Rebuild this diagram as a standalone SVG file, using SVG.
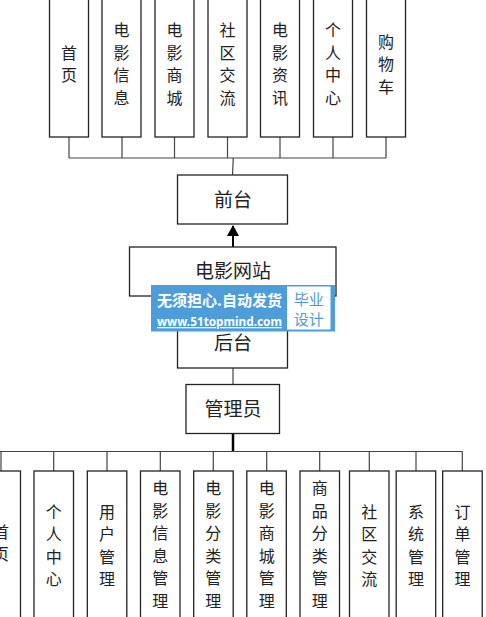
<svg xmlns="http://www.w3.org/2000/svg" width="486" height="617" viewBox="0 0 486 617">
<style>
.box{fill:#fff;stroke:#222;stroke-width:1.3}
.ln{fill:none;stroke:#444;stroke-width:1.2}
.t{font-family:"Noto Sans CJK SC","Noto Sans CJK JP",sans-serif;font-size:16px;fill:#222;text-anchor:middle}
.tb{font-family:"Noto Sans CJK SC","Noto Sans CJK JP",sans-serif;font-size:19px;fill:#222;text-anchor:middle}
</style>
<defs>
<marker id="ah" markerWidth="12" markerHeight="12" refX="10" refY="6" orient="auto" markerUnits="userSpaceOnUse">
<path d="M0,0 L11,6 L0,12 z" fill="#000"/>
</marker>
</defs>
<rect width="486" height="617" fill="#fff"/>
<g id="connectors">
<path class="ln" d="M69,137V158M122,137V158M174.5,137V158M227.5,137V158M280,137V158M333,137V158M386,137V158M69,158H386M233.3,158L232.5,175"/>
<path d="M233,247V226" stroke="#000" stroke-width="2" fill="none" marker-end="url(#ah)"/>
<path class="ln" d="M233,296V318M233,368V384"/>
<path d="M233,433V451" stroke="#000" stroke-width="2.5" fill="none"/>
<path class="ln" d="M0,451.5H462.5M1,451.5V471M53.7,451.5V471M107,451.5V471M160.3,451.5V471M213.3,451.5V471M266.7,451.5V471M319.7,451.5V471M369.3,451.5V471M416,451.5V471M462.3,451.5V471"/>
</g>
<g id="top1"><rect class="box" x="49.5" y="-5" width="39" height="142"/><text class="t" x="69"><tspan x="69" y="59">首</tspan><tspan x="69" y="81">页</tspan></text></g>
<g id="top2"><rect class="box" x="102" y="-5" width="39" height="142"/><text class="t"><tspan x="121.5" y="36">电</tspan><tspan x="121.5" y="58.5">影</tspan><tspan x="121.5" y="81">信</tspan><tspan x="121.5" y="103.5">息</tspan></text></g>
<g id="top3"><rect class="box" x="155" y="-5" width="39" height="142"/><text class="t"><tspan x="174.5" y="36">电</tspan><tspan x="174.5" y="58.5">影</tspan><tspan x="174.5" y="81">商</tspan><tspan x="174.5" y="103.5">城</tspan></text></g>
<g id="top4"><rect class="box" x="208" y="-5" width="39" height="142"/><text class="t"><tspan x="227.5" y="36">社</tspan><tspan x="227.5" y="58.5">区</tspan><tspan x="227.5" y="81">交</tspan><tspan x="227.5" y="103.5">流</tspan></text></g>
<g id="top5"><rect class="box" x="260.5" y="-5" width="39" height="142"/><text class="t"><tspan x="280" y="36">电</tspan><tspan x="280" y="58.5">影</tspan><tspan x="280" y="81">资</tspan><tspan x="280" y="103.5">讯</tspan></text></g>
<g id="top6"><rect class="box" x="313.5" y="-5" width="39" height="142"/><text class="t"><tspan x="333" y="36">个</tspan><tspan x="333" y="58.5">人</tspan><tspan x="333" y="81">中</tspan><tspan x="333" y="103.5">心</tspan></text></g>
<g id="top7"><rect class="box" x="366.5" y="-5" width="39" height="142"/><text class="t"><tspan x="386" y="47.5">购</tspan><tspan x="386" y="70">物</tspan><tspan x="386" y="92.5">车</tspan></text></g>
<g id="qiantai"><rect class="box" x="177.5" y="175" width="110" height="49"/><text class="tb" x="233" y="206.5">前台</text></g>
<g id="site"><rect class="box" x="129.5" y="247" width="206.5" height="49"/><text class="tb" x="233" y="278">电影网站</text></g>
<g id="houtai"><rect class="box" x="177.5" y="318" width="110" height="50"/><text class="tb" x="233" y="350">后台</text></g>
<g id="admin"><rect class="box" x="186" y="384.5" width="93.5" height="49"/><text class="tb" x="233" y="416">管理员</text></g>
<g id="b1"><rect class="box" x="-19" y="471" width="39.5" height="160"/><text class="t"><tspan x="1" y="537.5">首</tspan><tspan x="1" y="560">页</tspan></text></g>
<g id="b2"><rect class="box" x="34" y="471" width="39.5" height="160"/><text class="t"><tspan x="53.7" y="517.5">个</tspan><tspan x="53.7" y="540">人</tspan><tspan x="53.7" y="562.5">中</tspan><tspan x="53.7" y="585">心</tspan></text></g>
<g id="b3"><rect class="box" x="87.3" y="471" width="39.5" height="160"/><text class="t"><tspan x="107" y="517.5">用</tspan><tspan x="107" y="540">户</tspan><tspan x="107" y="562.5">管</tspan><tspan x="107" y="585">理</tspan></text></g>
<g id="b4"><rect class="box" x="140.5" y="471" width="39.5" height="160"/><text class="t"><tspan x="160.3" y="494">电</tspan><tspan x="160.3" y="516.5">影</tspan><tspan x="160.3" y="539">信</tspan><tspan x="160.3" y="561.5">息</tspan><tspan x="160.3" y="584">管</tspan><tspan x="160.3" y="606.5">理</tspan></text></g>
<g id="b5"><rect class="box" x="193.7" y="471" width="39.5" height="160"/><text class="t"><tspan x="213.3" y="494">电</tspan><tspan x="213.3" y="516.5">影</tspan><tspan x="213.3" y="539">分</tspan><tspan x="213.3" y="561.5">类</tspan><tspan x="213.3" y="584">管</tspan><tspan x="213.3" y="606.5">理</tspan></text></g>
<g id="b6"><rect class="box" x="246.8" y="471" width="39.5" height="160"/><text class="t"><tspan x="266.7" y="494">电</tspan><tspan x="266.7" y="516.5">影</tspan><tspan x="266.7" y="539">商</tspan><tspan x="266.7" y="561.5">城</tspan><tspan x="266.7" y="584">管</tspan><tspan x="266.7" y="606.5">理</tspan></text></g>
<g id="b7"><rect class="box" x="300" y="471" width="39.5" height="160"/><text class="t"><tspan x="319.7" y="494">商</tspan><tspan x="319.7" y="516.5">品</tspan><tspan x="319.7" y="539">分</tspan><tspan x="319.7" y="561.5">类</tspan><tspan x="319.7" y="584">管</tspan><tspan x="319.7" y="606.5">理</tspan></text></g>
<g id="b8"><rect class="box" x="349.5" y="471" width="39.5" height="160"/><text class="t"><tspan x="369.3" y="517.5">社</tspan><tspan x="369.3" y="540">区</tspan><tspan x="369.3" y="562.5">交</tspan><tspan x="369.3" y="585">流</tspan></text></g>
<g id="b9"><rect class="box" x="396.2" y="471" width="39.5" height="160"/><text class="t"><tspan x="416" y="517.5">系</tspan><tspan x="416" y="540">统</tspan><tspan x="416" y="562.5">管</tspan><tspan x="416" y="585">理</tspan></text></g>
<g id="b10"><rect class="box" x="442.7" y="471" width="39.5" height="160"/><text class="t"><tspan x="462.4" y="517.5">订</tspan><tspan x="462.4" y="540">单</tspan><tspan x="462.4" y="562.5">管</tspan><tspan x="462.4" y="585">理</tspan></text></g>
<g id="watermark">
<rect x="151" y="285" width="184" height="46.5" fill="#4d9ddb"/>
<rect x="287" y="286.5" width="43.5" height="43" fill="#fff"/>
<text x="157" y="306" font-family="Noto Sans CJK SC,sans-serif" font-size="15" font-weight="bold" fill="#fff" textLength="125" lengthAdjust="spacingAndGlyphs">无须担心.自动发货</text>
<text x="157" y="326" font-family="Noto Sans,sans-serif" font-size="13" font-weight="bold" fill="#fff" text-decoration="underline" textLength="125" lengthAdjust="spacingAndGlyphs">www.51topmind.com</text>
<text x="308.7" y="305" font-family="Noto Sans CJK SC,sans-serif" font-size="15" fill="#4d9ddb" text-anchor="middle">毕业</text>
<text x="308.7" y="325" font-family="Noto Sans CJK SC,sans-serif" font-size="15" fill="#4d9ddb" text-anchor="middle">设计</text>
</g>
</svg>
